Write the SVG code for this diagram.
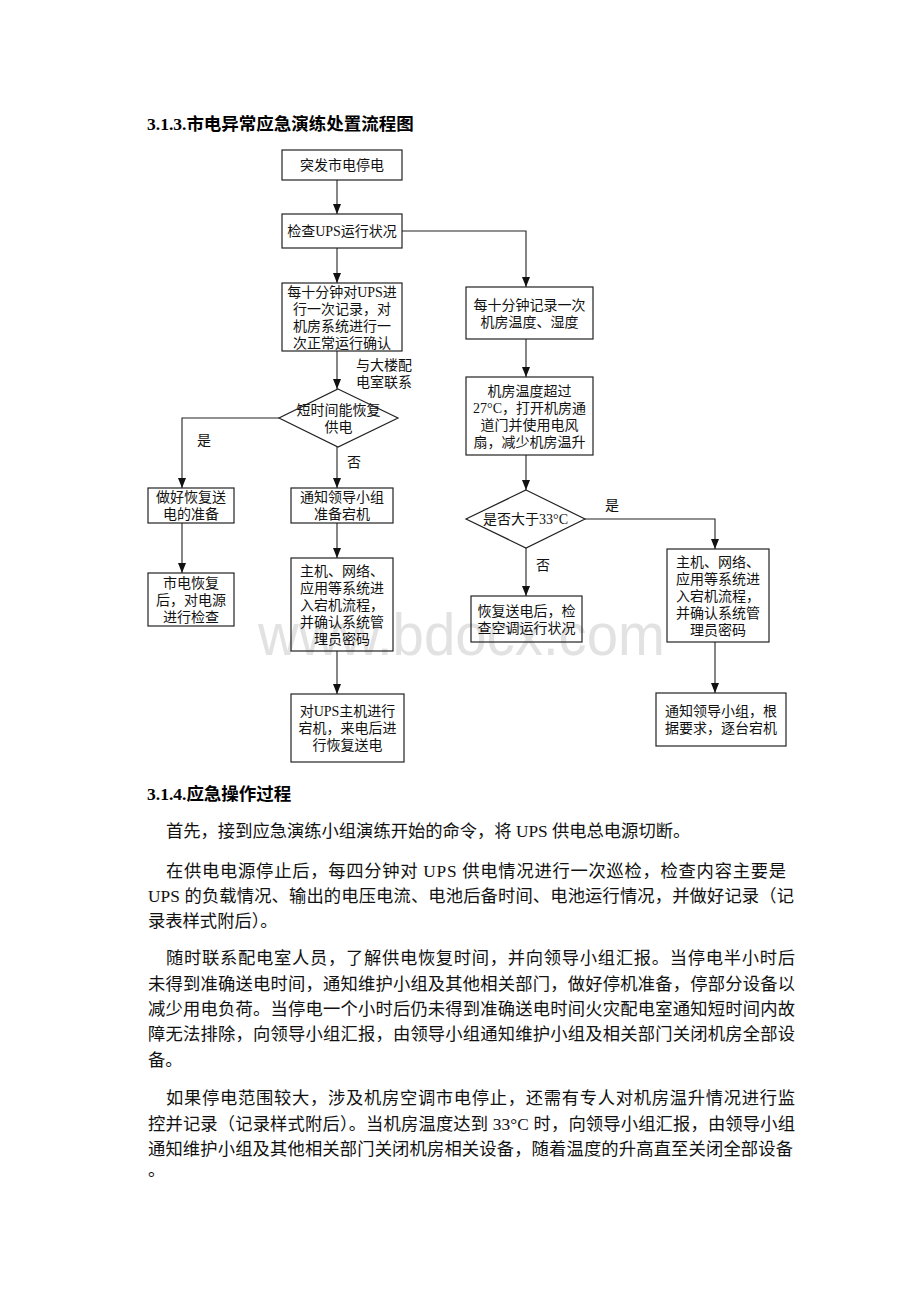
<svg xmlns="http://www.w3.org/2000/svg" width="920" height="1302" viewBox="0 0 920 1302">
<style>
.bx{fill:none;stroke:#222;stroke-width:1.2}
.ln{fill:none;stroke:#222;stroke-width:1.1}
.t{font-family:"Liberation Serif","Noto Sans CJK SC",serif;font-size:14px;fill:#111;text-anchor:middle}
.lb{font-family:"Liberation Serif","Noto Sans CJK SC",serif;font-size:14px;fill:#111}
.h{font-family:"Liberation Serif","Noto Sans CJK SC",serif;font-size:17.5px;font-weight:bold;fill:#000}
.p{font-family:"Liberation Serif","Noto Sans CJK SC",serif;font-size:17.3px;fill:#111}
.wm{font-family:"Liberation Sans",Arial,sans-serif;font-size:60px;fill:#e2e2e2}
</style>
<defs>
<marker id="ah" viewBox="0 0 10 8" refX="10" refY="4" markerWidth="10" markerHeight="8" markerUnits="userSpaceOnUse" orient="auto">
<path d="M0,0 L10,4 L0,8 z" fill="#111"/>
</marker>
</defs>
<rect width="920" height="1302" fill="#fff"/>
<text class="wm" x="258" y="655" textLength="407" lengthAdjust="spacingAndGlyphs">www.bdocx.com</text>

<text class="h" x="147" y="130">3.1.3.市电异常应急演练处置流程图</text>

<g id="connectors">
<path class="ln" d="M337,180 V214" marker-end="url(#ah)"/>
<path class="ln" d="M337,248 V283" marker-end="url(#ah)"/>
<path class="ln" d="M402,231 H526 V287" marker-end="url(#ah)"/>
<path class="ln" d="M526,339 V377" marker-end="url(#ah)"/>
<path class="ln" d="M526,455 V490" marker-end="url(#ah)"/>
<path class="ln" d="M585,519 H715 V549" marker-end="url(#ah)"/>
<path class="ln" d="M526,548 V596" marker-end="url(#ah)"/>
<path class="ln" d="M715,642 V693" marker-end="url(#ah)"/>
<path class="ln" d="M337,351 V389" marker-end="url(#ah)"/>
<path class="ln" d="M279,418 H182 V488" marker-end="url(#ah)"/>
<path class="ln" d="M337,447 V488" marker-end="url(#ah)"/>
<path class="ln" d="M182,523 V573" marker-end="url(#ah)"/>
<path class="ln" d="M337,523 V558" marker-end="url(#ah)"/>
<path class="ln" d="M337,651 V694" marker-end="url(#ah)"/>
<text class="lb" x="356" y="370">与大楼配</text>
<text class="lb" x="356" y="387">电室联系</text>
<text class="lb" x="197" y="445">是</text>
<text class="lb" x="347" y="467">否</text>
<text class="lb" x="605" y="510">是</text>
<text class="lb" x="536" y="570">否</text>
</g>

<g id="n1"><rect class="bx" x="282" y="150" width="120" height="30"/>
<text class="t" x="342" y="170">突发市电停电</text></g>

<g id="n2"><rect class="bx" x="282" y="214" width="120" height="34"/>
<text class="t" x="342" y="236">检查UPS运行状况</text></g>

<g id="n3"><rect class="bx" x="282" y="283" width="120" height="68"/>
<text class="t" x="342" y="296.5">每十分钟对UPS进</text>
<text class="t" x="342" y="313.5">行一次记录，对</text>
<text class="t" x="342" y="330.5">机房系统进行一</text>
<text class="t" x="342" y="347.5">次正常运行确认</text></g>

<g id="r1"><rect class="bx" x="466" y="287" width="127" height="52"/>
<text class="t" x="529.5" y="309.5">每十分钟记录一次</text>
<text class="t" x="529.5" y="326.5">机房温度、湿度</text></g>

<g id="r2"><rect class="bx" x="466" y="377" width="127" height="78"/>
<text class="t" x="529.5" y="395.5">机房温度超过</text>
<text class="t" x="529.5" y="412.5">27°C，打开机房通</text>
<text class="t" x="529.5" y="429.5">道门并使用电风</text>
<text class="t" x="529.5" y="446.5">扇，减少机房温升</text></g>

<g id="rd"><polygon class="bx" points="526,490 585,519 526,548 466,519"/>
<text class="t" x="525.5" y="524">是否大于33°C</text></g>

<g id="rr"><rect class="bx" x="667" y="549" width="102" height="93"/>
<text class="t" x="718" y="566.5">主机、网络、</text>
<text class="t" x="718" y="583.5">应用等系统进</text>
<text class="t" x="718" y="600.5">入宕机流程，</text>
<text class="t" x="718" y="617.5">并确认系统管</text>
<text class="t" x="718" y="634.5">理员密码</text></g>

<g id="r3"><rect class="bx" x="471" y="596" width="111" height="46"/>
<text class="t" x="526.5" y="615.5">恢复送电后，检</text>
<text class="t" x="526.5" y="632.5">查空调运行状况</text></g>

<g id="r4"><rect class="bx" x="656" y="693" width="130" height="53"/>
<text class="t" x="721" y="716">通知领导小组，根</text>
<text class="t" x="721" y="733">据要求，逐台宕机</text></g>

<g id="ld"><polygon class="bx" points="338,389 398,418 338,447 279,418"/>
<text class="t" x="338.5" y="414.5">短时间能恢复</text>
<text class="t" x="338.5" y="431.5">供电</text></g>

<g id="l1"><rect class="bx" x="148" y="488" width="86" height="35"/>
<text class="t" x="191" y="502">做好恢复送</text>
<text class="t" x="191" y="519">电的准备</text></g>

<g id="m1"><rect class="bx" x="291" y="488" width="102" height="35"/>
<text class="t" x="342" y="502">通知领导小组</text>
<text class="t" x="342" y="519">准备宕机</text></g>

<g id="l2"><rect class="bx" x="148" y="573" width="86" height="53"/>
<text class="t" x="191" y="587.5">市电恢复</text>
<text class="t" x="191" y="604.5">后，对电源</text>
<text class="t" x="191" y="621.5">进行检查</text></g>

<g id="m2"><rect class="bx" x="291" y="558" width="102" height="93"/>
<text class="t" x="342" y="575.5">主机、网络、</text>
<text class="t" x="342" y="592.5">应用等系统进</text>
<text class="t" x="342" y="609.5">入宕机流程，</text>
<text class="t" x="342" y="626.5">并确认系统管</text>
<text class="t" x="342" y="643.5">理员密码</text></g>

<g id="m3"><rect class="bx" x="291" y="694" width="113" height="68"/>
<text class="t" x="347.5" y="716">对UPS主机进行</text>
<text class="t" x="347.5" y="733">宕机，来电后进</text>
<text class="t" x="347.5" y="750">行恢复送电</text></g>

<text class="h" x="147" y="800">3.1.4.应急操作过程</text>

<text class="p" x="166" y="837">首先，接到应急演练小组演练开始的命令，将 UPS 供电总电源切断。</text>
<text class="p" x="166" y="877" textLength="620" lengthAdjust="spacing">在供电电源停止后，每四分钟对 UPS 供电情况进行一次巡检，检查内容主要是</text>
<text class="p" x="148" y="902" textLength="646" lengthAdjust="spacing">UPS 的负载情况、输出的电压电流、电池后备时间、电池运行情况，并做好记录（记</text>
<text class="p" x="148" y="927">录表样式附后）。</text>
<text class="p" x="166" y="964" textLength="629" lengthAdjust="spacing">随时联系配电室人员，了解供电恢复时间，并向领导小组汇报。当停电半小时后</text>
<text class="p" x="148" y="990" textLength="647" lengthAdjust="spacing">未得到准确送电时间，通知维护小组及其他相关部门，做好停机准备，停部分设备以</text>
<text class="p" x="148" y="1015" textLength="647" lengthAdjust="spacing">减少用电负荷。当停电一个小时后仍未得到准确送电时间火灾配电室通知短时间内故</text>
<text class="p" x="148" y="1040" textLength="647" lengthAdjust="spacing">障无法排除，向领导小组汇报，由领导小组通知维护小组及相关部门关闭机房全部设</text>
<text class="p" x="148" y="1066">备。</text>
<text class="p" x="166" y="1104" textLength="629" lengthAdjust="spacing">如果停电范围较大，涉及机房空调市电停止，还需有专人对机房温升情况进行监</text>
<text class="p" x="148" y="1130" textLength="647" lengthAdjust="spacing">控并记录（记录样式附后）。当机房温度达到 33°C 时，向领导小组汇报，由领导小组</text>
<text class="p" x="148" y="1155" textLength="645" lengthAdjust="spacing">通知维护小组及其他相关部门关闭机房相关设备，随着温度的升高直至关闭全部设备</text>
<text class="p" x="148" y="1176">。</text>
</svg>
